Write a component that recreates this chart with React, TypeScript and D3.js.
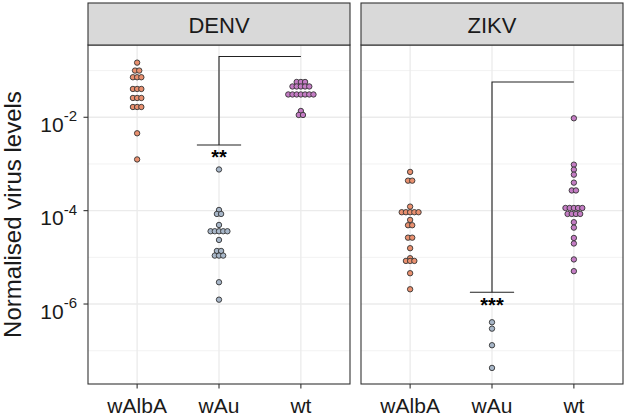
import React from 'react';
import * as d3 from 'd3';

const panels = ['DENV', 'ZIKV'];
const groups = ['wAlbA', 'wAu', 'wt'];
const groupColors = ['#E9906F', '#A7B6C8', '#C47CC4'];

// one entry per dot (identical values stack side by side)
const denvWAlbA = [0.148, 0.1, 0.1, 0.072, 0.072, 0.072, 0.0404, 0.0404, 0.0404, 0.0259, 0.0259, 0.0259, 0.0166, 0.0166, 0.0166, 0.00454, 0.00125];
const denvWAu = [7.62e-4, 1.035e-4, 8.5e-5, 8.5e-5, 4.94e-5, 3.62e-5, 3.62e-5, 3.62e-5, 3.62e-5, 3.62e-5, 2.36e-5, 1.37e-5, 1.37e-5, 1.09e-5, 1.09e-5, 1.09e-5, 2.93e-6, 1.24e-6];
const denvWt = [0.057, 0.057, 0.057, 0.0457, 0.0457, 0.0457, 0.0457, 0.0457, 0.0308, 0.0308, 0.0308, 0.0308, 0.0308, 0.0308, 0.0308, 0.01365, 0.0112, 0.0112];
const zikvWAlbA = [6.75e-4, 4.39e-4, 4.39e-4, 1.22e-4, 9.25e-5, 9.25e-5, 9.25e-5, 9.25e-5, 9.25e-5, 6.33e-5, 4.87e-5, 4.87e-5, 2.64e-5, 2.64e-5, 1.57e-5, 9.57e-6, 8.38e-6, 8.38e-6, 8.38e-6, 4.57e-6, 2.07e-6];
const zikvWAu = [4.07e-7, 2.97e-7, 1.31e-7, 4.28e-8];
const zikvWt = [9.52e-3, 9.66e-4, 7.55e-4, 5.9e-4, 3.98e-4, 2.71e-4, 2.71e-4, 1.14e-4, 1.14e-4, 1.14e-4, 1.14e-4, 1.14e-4, 8.5e-5, 8.5e-5, 8.5e-5, 8.5e-5, 5.65e-5, 4.33e-5, 2.6e-5, 1.98e-5, 9.02e-6, 5.06e-6];

const panelData = [
  [denvWAlbA, denvWAu, denvWt],
  [zikvWAlbA, zikvWAu, zikvWt],
];

const yMajor = [1e-2, 1e-4, 1e-6];
const yMajorExp = ['-2', '-4', '-6'];
const yMinor = [1e-1, 1e-3, 1e-5, 1e-7];

// significance brackets
const bracketPanel = ['DENV', 'ZIKV'];
const bracketFrom = ['wAu', 'wAu'];
const bracketTo = ['wt', 'wt'];
const bracketTop = [0.2, 0.057];
const bracketBottom = [0.00255, 1.79e-6];
const bracketLabel = ['**', '***'];

const FONT = '"Liberation Sans", Arial, Helvetica, sans-serif';

export default function App() {
  const W = 626, H = 418;
  const panelX = [[88, 350], [361, 623]];
  const top = 45, bottom = 384, stripTop = 3;
  const y = d3.scaleLog().domain([Math.pow(10, -7.713), Math.pow(10, -0.452)]).range([bottom, top]);
  const r = 2.7, spacing = 4.2;

  return (
    <svg width={W} height={H} style={{ position: 'absolute', left: 0, top: 0, background: '#fff' }} fontFamily={FONT}>
      <rect x={0} y={0} width={W} height={H} fill="#fff" />
      {panels.map((p, pi) => {
        const [x0, x1] = panelX[pi];
        const x = d3.scalePoint().domain(groups).range([x0, x1]).padding(0.6);
        const step = x.step();
        const dots: any[] = [];
        panelData[pi].forEach((vals, gi) => {
          const rows = d3.groups(vals, (v) => v);
          rows.forEach(([v, arr]) => {
            const n = arr.length;
            arr.forEach((_, i) => {
              dots.push({ cx: (x(groups[gi]) as number) + (i - (n - 1) / 2) * spacing, cy: y(v), fill: groupColors[gi] });
            });
          });
        });
        const bi = bracketPanel.indexOf(p);
        return (
          <g key={p}>
            <rect x={x0} y={top} width={x1 - x0} height={bottom - top} fill="#fff" />
            {yMinor.map((t) => (
              <line key={'mn' + t} x1={x0} x2={x1} y1={y(t)} y2={y(t)} stroke="#F0F0F0" strokeWidth={0.9} />
            ))}
            {yMajor.map((t) => (
              <line key={'mj' + t} x1={x0} x2={x1} y1={y(t)} y2={y(t)} stroke="#EBEBEB" strokeWidth={1.3} />
            ))}
            {groups.map((g) => (
              <line key={'vg' + g} x1={x(g)} x2={x(g)} y1={top} y2={bottom} stroke="#EBEBEB" strokeWidth={1.3} />
            ))}
            {bi >= 0 && (
              <g>
                <path
                  d={`M${x(bracketTo[bi])},${y(bracketTop[bi])}H${x(bracketFrom[bi])}V${y(bracketBottom[bi])}`}
                  fill="none" stroke="#222" strokeWidth={1.1} />
                <line x1={(x(bracketFrom[bi]) as number) - 0.27 * step} x2={(x(bracketFrom[bi]) as number) + 0.27 * step}
                  y1={y(bracketBottom[bi])} y2={y(bracketBottom[bi])} stroke="#222" strokeWidth={1.1} />
                <text x={x(bracketFrom[bi])} y={y(bracketBottom[bi]) + 19.5} textAnchor="middle" fontSize={20} fontWeight="bold" fill="#000">
                  {bracketLabel[bi]}
                </text>
              </g>
            )}
            {dots.map((d, i) => (
              <circle key={i} cx={d.cx} cy={d.cy} r={r} fill={d.fill} stroke="#333" strokeWidth={0.9} />
            ))}
            <rect x={x0} y={top} width={x1 - x0} height={bottom - top} fill="none" stroke="#333" strokeWidth={1.1} />
            <rect x={x0} y={stripTop} width={x1 - x0} height={top - stripTop} fill="#D9D9D9" stroke="#333" strokeWidth={1.1} />
            <text x={(x0 + x1) / 2} y={32.5} textAnchor="middle" fontSize={22} fill="#1A1A1A">{p}</text>
            {groups.map((g) => (
              <g key={'xt' + g}>
                <line x1={x(g)} x2={x(g)} y1={bottom} y2={bottom + 4.5} stroke="#333" strokeWidth={1.1} />
                <text x={x(g)} y={412.5} textAnchor="middle" fontSize={21} fill="#1A1A1A">{g}</text>
              </g>
            ))}
          </g>
        );
      })}
      {yMajor.map((t, i) => (
        <g key={'yt' + t}>
          <line x1={83.5} x2={88} y1={y(t)} y2={y(t)} stroke="#333" strokeWidth={1.1} />
          <text x={77} y={y(t) + 14.5} textAnchor="end" fontSize={21} fill="#1A1A1A">
            <tspan>10</tspan>
            <tspan fontSize={15} dy={-10.5}>{yMajorExp[i]}</tspan>
          </text>
        </g>
      ))}
      <text transform={`translate(21,${(top + bottom) / 2}) rotate(-90)`} textAnchor="middle" fontSize={24} fill="#1A1A1A">
        Normalised virus levels
      </text>
    </svg>
  );
}
